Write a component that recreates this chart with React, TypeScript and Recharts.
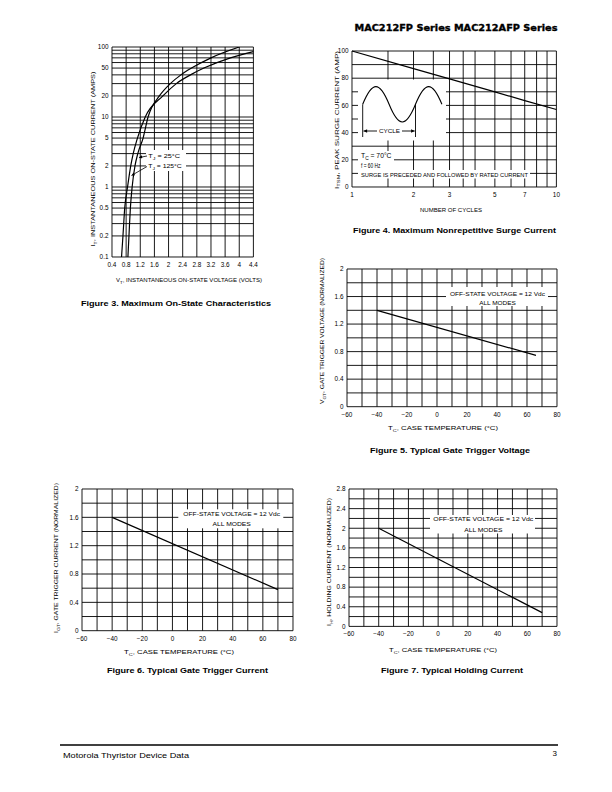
import React from 'react'
import { LineChart, Line, XAxis, YAxis, ReferenceLine } from 'recharts'

const FONT = '"Liberation Sans", Arial, Helvetica, sans-serif'

// Figure 3 – on-state characteristics
const onStateVoltTicks = [0.4, 0.8, 1.2, 1.6, 2, 2.4, 2.8, 3.2, 3.6, 4, 4.4]
const onStateAmpTicks = [0.1, 0.2, 0.5, 1, 2, 5, 10, 20, 50, 100]
const onStateAmpGrid = [
  0.1, 0.2, 0.3, 0.4, 0.5, 0.6, 0.7, 0.8, 0.9, 1, 2, 3, 4, 5, 6, 7, 8, 9, 10, 20, 30, 40, 50, 60, 70,
  80, 90, 100,
]
const tj25Volts = [0.85, 0.88, 0.92, 0.97, 1.05, 1.13, 1.28, 1.42, 1.74, 2.05, 2.35, 2.65, 3.2, 4.0]
const tj25Amps = [0.1, 0.2, 0.5, 1, 2, 3, 5, 10, 20, 30, 40, 50, 70, 100]
const tj125Volts = [0.67, 0.71, 0.76, 0.84, 0.93, 1.0, 1.12, 1.34, 1.84, 2.22, 2.62, 3.0, 3.75, 4.4]
const tj125Amps = [0.1, 0.2, 0.5, 1, 2, 3, 5, 10, 20, 30, 40, 50, 70, 86]

// Figure 4 – surge current
const surgeCycles = [1, 2, 3, 5, 7, 10]
const surgeAmps = [100, 87, 79.5, 70, 63.5, 57]
const surgeCycleTicks = [1, 2, 3, 5, 7, 10]
const surgeCycleGrid = [1, 1.5, 2, 2.5, 3, 3.5, 4, 5, 6, 7, 8, 9, 10]
const surgeAmpTicks = [0, 20, 40, 60, 80, 100]
const surgeAmpGrid = [0, 10, 20, 30, 40, 50, 60, 70, 80, 90, 100]

// Figures 5-7 – versus case temperature
const tempTicks = [-60, -40, -20, 0, 20, 40, 60, 80]
const tempGrid = [-60, -50, -40, -30, -20, -10, 0, 10, 20, 30, 40, 50, 60, 70, 80]
const normTicks2 = [0, 0.4, 0.8, 1.2, 1.6, 2]
const normGrid2 = [0, 0.2, 0.4, 0.6, 0.8, 1, 1.2, 1.4, 1.6, 1.8, 2]
const normTicks28 = [0, 0.4, 0.8, 1.2, 1.6, 2, 2.4, 2.8]
const normGrid28 = [0, 0.2, 0.4, 0.6, 0.8, 1, 1.2, 1.4, 1.6, 1.8, 2, 2.2, 2.4, 2.6, 2.8]
const vgtTemps = [-40, 66]
const vgtValues = [1.4, 0.745]
const igtTemps = [-40, 70]
const igtValues = [1.6, 0.58]
const ihTemps = [-40, 70]
const ihValues = [2.0, 0.28]

const pairs = (xs: number[], ys: number[]) => xs.map((x, i) => ({ x, y: ys[i] }))

type Rect = { x: number; y: number; w: number; h: number }

const YW = 40
const MT = 6
const MR = 8
const XH = 16

const TICK = { fontSize: 6.4, fill: '#000', fontFamily: FONT }
const fmtNum = (v: number) => String(Math.round(v * 10) / 10)
const fmtTemp = (v: number) => (v < 0 ? '\u2212' + Math.abs(v) : String(v))

function grid(xs: number[], ys: number[]) {
  return [
    ...xs.map((v) => <ReferenceLine key={'gx' + v} x={v} stroke="#000" strokeWidth={0.9} />),
    ...ys.map((v) => <ReferenceLine key={'gy' + v} y={v} stroke="#000" strokeWidth={0.9} />),
  ]
}

function Chart({ r, children }: { r: Rect; children: React.ReactNode }) {
  return (
    <div style={{ position: 'absolute', left: r.x - YW, top: r.y - MT }}>
      <LineChart
        width={r.w + YW + MR}
        height={r.h + MT + XH}
        margin={{ top: MT, right: MR, bottom: 0, left: 0 }}
      >
        {children}
      </LineChart>
    </div>
  )
}

const fig3: Rect = { x: 112.3, y: 47.3, w: 141.4, h: 210 }
const fig4: Rect = { x: 352.3, y: 50.7, w: 204.4, h: 136 }
const fig5: Rect = { x: 347, y: 269, w: 210, h: 137.7 }
const fig6: Rect = { x: 82.3, y: 489.3, w: 211, h: 141.7 }
const fig7: Rect = { x: 349.3, y: 489.3, w: 208, h: 137.4 }

function TempChart({ r, yTicks, yGrid, yMax, temps, values }: {
  r: Rect; yTicks: number[]; yGrid: number[]; yMax: number; temps: number[]; values: number[]
}) {
  return (
    <Chart r={r}>
      <XAxis type="number" dataKey="x" domain={[-60, 80]} ticks={tempTicks} tickFormatter={fmtTemp}
        height={XH} axisLine={false} tickLine={false} tickSize={3} tickMargin={2.5} tick={TICK} interval={0} />
      <YAxis type="number" dataKey="y" domain={[0, yMax]} ticks={yTicks} tickFormatter={fmtNum}
        width={YW} axisLine={false} tickLine={false} tickSize={2} tickMargin={1.5} tick={TICK} interval={0} />
      {grid(tempGrid, yGrid)}
      <Line data={pairs(temps, values)} dataKey="y" type="linear" stroke="#000" strokeWidth={1.2}
        dot={false} isAnimationActive={false} />
    </Chart>
  )
}

// main letter, subscript, then the rest back on the baseline
function sub(main: string, s: string, rest: string, size = 6) {
  const shift = size * 0.3
  return (
    <>
      {main}
      <tspan fontSize={size * 0.72} dy={shift}>{s}</tspan>
      <tspan dy={-shift}>{rest}</tspan>
    </>
  )
}

function VLabel({ cx, cy, len, children }: { cx: number; cy: number; len: number; children: React.ReactNode }) {
  return (
    <text x={cx} y={cy} transform={`rotate(-90 ${cx} ${cy})`} textAnchor="middle" dominantBaseline="central"
      fontSize={6} textLength={len} lengthAdjust="spacingAndGlyphs">
      {children}
    </text>
  )
}

function HLabel({ cx, y, len, children, size = 6, bold = false }: {
  cx: number; y: number; len: number; children: React.ReactNode; size?: number; bold?: boolean
}) {
  return (
    <text x={cx} y={y} textAnchor="middle" fontSize={size} fontWeight={bold ? 700 : 400}
      textLength={len} lengthAdjust="spacingAndGlyphs">
      {children}
    </text>
  )
}

function NoteBox({ x, y, w, h, cx, y1, y2, len1, len2 }: {
  x: number; y: number; w: number; h: number; cx: number; y1: number; y2: number; len1: number; len2: number
}) {
  return (
    <g>
      <rect x={x} y={y} width={w} height={h} fill="#fff" />
      <HLabel cx={cx} y={y1} len={len1}>OFF-STATE VOLTAGE = 12 Vdc</HLabel>
      <HLabel cx={cx} y={y2} len={len2}>ALL MODES</HLabel>
    </g>
  )
}

export default function App() {
  return (
    <div style={{ position: 'absolute', left: 0, top: 0, width: 612, height: 792, background: '#fff', fontFamily: FONT }}>
      <Chart r={fig3}>
        <XAxis type="number" dataKey="x" domain={[0.4, 4.4]} ticks={onStateVoltTicks} tickFormatter={fmtNum}
          height={XH} axisLine={false} tickLine={false} tickSize={3} tickMargin={2.7} tick={TICK} interval={0} />
        <YAxis type="number" dataKey="y" scale="log" domain={[0.1, 100]} allowDataOverflow ticks={onStateAmpTicks}
          tickFormatter={(v: number) => String(v)} width={YW} axisLine={false} tickLine={false} tickSize={2}
          tickMargin={1.5} tick={TICK} interval={0} />
        {grid(onStateVoltTicks, onStateAmpGrid)}
        <Line data={pairs(tj25Volts, tj25Amps)} dataKey="y" type="monotone" stroke="#000" strokeWidth={1.2}
          dot={false} isAnimationActive={false} />
        <Line data={pairs(tj125Volts, tj125Amps)} dataKey="y" type="monotone" stroke="#000" strokeWidth={1.2}
          dot={false} isAnimationActive={false} />
      </Chart>

      <Chart r={fig4}>
        <XAxis type="number" dataKey="x" scale="log" domain={[1, 10]} ticks={surgeCycleTicks}
          tickFormatter={(v: number) => String(v)} height={XH} axisLine={false} tickLine={false} tickSize={3}
          tickMargin={2.5} tick={TICK} interval={0} />
        <YAxis type="number" dataKey="y" domain={[0, 100]} ticks={surgeAmpTicks} width={YW} axisLine={false}
          tickLine={false} tickSize={2} tickMargin={1.5} tick={TICK} interval={0} />
        {grid(surgeCycleGrid, surgeAmpGrid)}
        <Line data={pairs(surgeCycles, surgeAmps)} dataKey="y" type="linear" stroke="#000" strokeWidth={1.2}
          dot={false} isAnimationActive={false} />
      </Chart>

      <TempChart r={fig5} yTicks={normTicks2} yGrid={normGrid2} yMax={2} temps={vgtTemps} values={vgtValues} />
      <TempChart r={fig6} yTicks={normTicks2} yGrid={normGrid2} yMax={2} temps={igtTemps} values={igtValues} />
      <TempChart r={fig7} yTicks={normTicks28} yGrid={normGrid28} yMax={2.8} temps={ihTemps} values={ihValues} />

      <svg width={612} height={792} style={{ position: 'absolute', left: 0, top: 0, pointerEvents: 'none' }}
        fontFamily={FONT} fill="#000">
        <defs>
          <marker id="ah" viewBox="0 0 10 10" refX="10" refY="5" markerWidth="5" markerHeight="4" orient="auto">
            <path d="M0,0 L10,5 L0,10 z" fill="#000" />
          </marker>
        </defs>

        {/* header */}
        <text x={557.5} y={30.5} textAnchor="end" fontSize={9.5} fontWeight={700} stroke="#000" strokeWidth={0.35}
          textLength={203} lengthAdjust="spacingAndGlyphs" fontFamily='"DejaVu Sans", sans-serif'>
          MAC212FP Series MAC212AFP Series
        </text>

        {/* figure 3 */}
        <rect x={146} y={150} width={40} height={21} fill="#fff" />
        <text x={148.3} y={158} fontSize={6} textLength={31.7} lengthAdjust="spacingAndGlyphs">
          {sub('T', 'J', ' = 25°C')}
        </text>
        <text x={148.3} y={168.3} fontSize={6} textLength={33.4} lengthAdjust="spacingAndGlyphs">
          {sub('T', 'J', ' = 125°C')}
        </text>
        <line x1={147} y1={156} x2={139} y2={157.5} stroke="#000" strokeWidth={0.8} markerEnd="url(#ah)" />
        <line x1={147} y1={166.5} x2={131.5} y2={175.5} stroke="#000" strokeWidth={0.8} markerEnd="url(#ah)" />
        <VLabel cx={93.3} cy={159} len={175}>
          {sub('I', 'T', ', INSTANTANEOUS ON-STATE CURRENT (AMPS)')}
        </VLabel>
        <HLabel cx={189} y={282} len={146}>
          {sub('V', 'T', ', INSTANTANEOUS ON-STATE VOLTAGE (VOLTS)')}
        </HLabel>
        <HLabel cx={176} y={305.5} len={190} size={7.5} bold>Figure 3. Maximum On-State Characteristics</HLabel>

        {/* figure 4 */}
        <rect x={358} y={79.5} width={88} height={61} fill="#fff" />
        <path
          d="M362.7,104.3 C372.3,80.7 379.5,80.7 389.1,104.3 C398.7,127.9 405.9,127.9 415.5,104.3 C425.1,80.7 432.3,80.7 441.9,104.3"
          fill="none" stroke="#000" strokeWidth={1.1} />
        <line x1={362.7} y1={104.3} x2={362.7} y2={137} stroke="#000" strokeWidth={0.9} />
        <line x1={415.5} y1={104.3} x2={415.5} y2={137} stroke="#000" strokeWidth={0.9} />
        <line x1={377} y1={131} x2={363.5} y2={131} stroke="#000" strokeWidth={0.9} markerEnd="url(#ah)" />
        <line x1={402} y1={131} x2={414.7} y2={131} stroke="#000" strokeWidth={0.9} markerEnd="url(#ah)" />
        <text x={389.5} y={133} textAnchor="middle" fontSize={6} textLength={21} lengthAdjust="spacingAndGlyphs">CYCLE</text>
        <rect x={358} y={151} width={36} height={19} fill="#fff" />
        <rect x={358} y={170} width={172} height={8.5} fill="#fff" />
        <text x={361} y={158.3} fontSize={6.3} textLength={30.5} lengthAdjust="spacingAndGlyphs">
          {sub('T', 'C', ' = 70°C', 6.3)}
        </text>
        <text x={361} y={168} fontSize={6.3} textLength={19.5} lengthAdjust="spacingAndGlyphs">f = 60 Hz</text>
        <text x={361} y={176.7} fontSize={5.8} textLength={167} lengthAdjust="spacingAndGlyphs">
          SURGE IS PRECEDED AND FOLLOWED BY RATED CURRENT
        </text>
        <VLabel cx={336.5} cy={120} len={138}>
          {sub('I', 'TSM', ', PEAK SURGE CURRENT (AMP)')}
        </VLabel>
        <HLabel cx={451} y={212} len={62}>NUMBER OF CYCLES</HLabel>
        <HLabel cx={454.5} y={232.5} len={203} size={7.5} bold>Figure 4. Maximum Nonrepetitive Surge Current</HLabel>

        {/* figure 5 */}
        <NoteBox x={446} y={287} w={102} h={19} cx={497.5} y1={295.5} y2={305} len1={95} len2={36.7} />
        <VLabel cx={322} cy={331} len={146}>
          {sub('V', 'GT', ', GATE TRIGGER VOLTAGE (NORMALIZED)')}
        </VLabel>
        <HLabel cx={443} y={430} len={110}>
          {sub('T', 'C', ', CASE TEMPERATURE (°C)')}
        </HLabel>
        <HLabel cx={450} y={452.5} len={160} size={7.5} bold>Figure 5. Typical Gate Trigger Voltage</HLabel>

        {/* figure 6 */}
        <NoteBox x={178.3} y={509.3} w={105} h={19} cx={231.7} y1={515.6} y2={525.6} len1={96.7} len2={38.3} />
        <VLabel cx={56} cy={558} len={150}>
          {sub('I', 'GT', ', GATE TRIGGER CURRENT (NORMALIZED)')}
        </VLabel>
        <HLabel cx={179} y={654} len={110}>
          {sub('T', 'C', ', CASE TEMPERATURE (°C)')}
        </HLabel>
        <HLabel cx={187.5} y={672.5} len={161} size={7.5} bold>Figure 6. Typical Gate Trigger Current</HLabel>

        {/* figure 7 */}
        <NoteBox x={430} y={515} w={105} h={18.5} cx={483.3} y1={521.3} y2={531.6} len1={100} len2={38.3} />
        <VLabel cx={329} cy={562} len={128}>
          {sub('I', 'H', ', HOLDING CURRENT (NORMALIZED)')}
        </VLabel>
        <HLabel cx={443} y={652} len={108}>
          {sub('T', 'C', ', CASE TEMPERATURE (°C)')}
        </HLabel>
        <HLabel cx={452} y={672.5} len={142} size={7.5} bold>Figure 7. Typical Holding Current</HLabel>

        {/* footer */}
        <line x1={60} y1={745} x2={558} y2={745} stroke="#000" strokeWidth={1.6} />
        <text x={63} y={758} fontSize={8} textLength={126} lengthAdjust="spacingAndGlyphs">Motorola Thyristor Device Data</text>
        <text x={557} y={756} textAnchor="end" fontSize={8}>3</text>
      </svg>
    </div>
  )
}
